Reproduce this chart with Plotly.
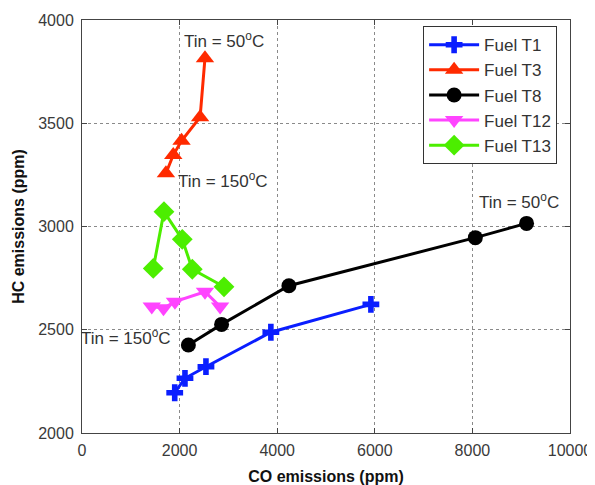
import plotly.graph_objects as go

series_names = ["Fuel T1", "Fuel T3", "Fuel T8", "Fuel T12", "Fuel T13"]
t1_co = [1900, 2110, 2540, 3870, 5920]
t1_hc = [2195, 2265, 2321, 2488, 2623]
t3_co = [2520, 2420, 2040, 1870, 1720]
t3_hc = [3815, 3529, 3415, 3346, 3258]
t8_co = [2180, 2860, 4240, 8060, 9110]
t8_hc = [2426, 2526, 2713, 2946, 3015]
t12_co = [1430, 1670, 1905, 2520, 2830]
t12_hc = [2612, 2604, 2636, 2684, 2612]
t13_co = [1460, 1680, 2055, 2260, 2910]
t13_hc = [2797, 3072, 2938, 2793, 2708]

x_ticks = [0, 2000, 4000, 6000, 8000, 10000]
y_ticks = [2000, 2500, 3000, 3500, 4000]

ann_text = ["Tin = 50<sup>o</sup>C", "Tin = 150<sup>o</sup>C", "Tin = 150<sup>o</sup>C", "Tin = 50<sup>o</sup>C"]
ann_x = [2040, 1930, 0, 8100]
ann_y = [3905, 3225, 2465, 3122]
ann_dx = [0, 0, -3, 0]

FONT = "Liberation Sans, Arial, Helvetica"

styles = [
    ("#0a1eff", "cross", 14),
    ("#ff2a00", "triangle-up", 16),
    ("#000000", "circle", 15),
    ("#ff44ff", "triangle-down", 16),
    ("#4cee00", "diamond", 16),
]
data = [(t1_co, t1_hc), (t3_co, t3_hc), (t8_co, t8_hc), (t12_co, t12_hc), (t13_co, t13_hc)]

fig = go.Figure()
for name, (xs, ys), (col, sym, sz) in zip(series_names, data, styles):
    fig.add_trace(go.Scatter(
        x=xs, y=ys, name=name, mode="lines+markers",
        line=dict(color=col, width=3),
        marker=dict(color=col, symbol=sym, size=sz, line=dict(width=0)),
        cliponaxis=False,
    ))

for t, x, y, dx in zip(ann_text, ann_x, ann_y, ann_dx):
    fig.add_annotation(x=x, y=y, text=t, showarrow=False, xanchor="left", yanchor="middle",
                       xshift=dx,
                       font=dict(family=FONT, size=17, color="#333333"))

axis_common = dict(
    showline=True, linecolor="#444444", linewidth=1, mirror="ticks",
    ticks="inside", ticklen=5, tickcolor="#444444",
    showgrid=True, gridcolor="#8a8a8a", griddash="dot", gridwidth=1,
    zeroline=False, automargin=False,
    tickfont=dict(family=FONT, size=16, color="#3a3a3a"),
)

fig.update_xaxes(range=[0, 10000], tickvals=x_ticks, ticktext=[str(v) for v in x_ticks],
                 ticklabelstandoff=3,
                 title=dict(text="<b>CO emissions (ppm)</b>", standoff=14,
                            font=dict(family=FONT, size=16, color="#111111")),
                 **axis_common)
fig.update_yaxes(range=[2000, 4000], tickvals=y_ticks, ticktext=[str(v) for v in y_ticks],
                 ticklabelstandoff=4,
                 title=dict(text="<b>HC emissions (ppm)</b>", standoff=9,
                            font=dict(family=FONT, size=16, color="#111111")),
                 **axis_common)

fig.update_layout(
    width=587, height=477,
    margin=dict(l=74, r=25, t=12, b=52),
    plot_bgcolor="white", paper_bgcolor="white",
    showlegend=True,
    legend=dict(x=0.699, y=0.985, xanchor="left", yanchor="top",
                bgcolor="white", bordercolor="#333333", borderwidth=1,
                itemwidth=50,
                font=dict(family=FONT, size=17, color="#333333")),
)

fig.write_html("out.html")
